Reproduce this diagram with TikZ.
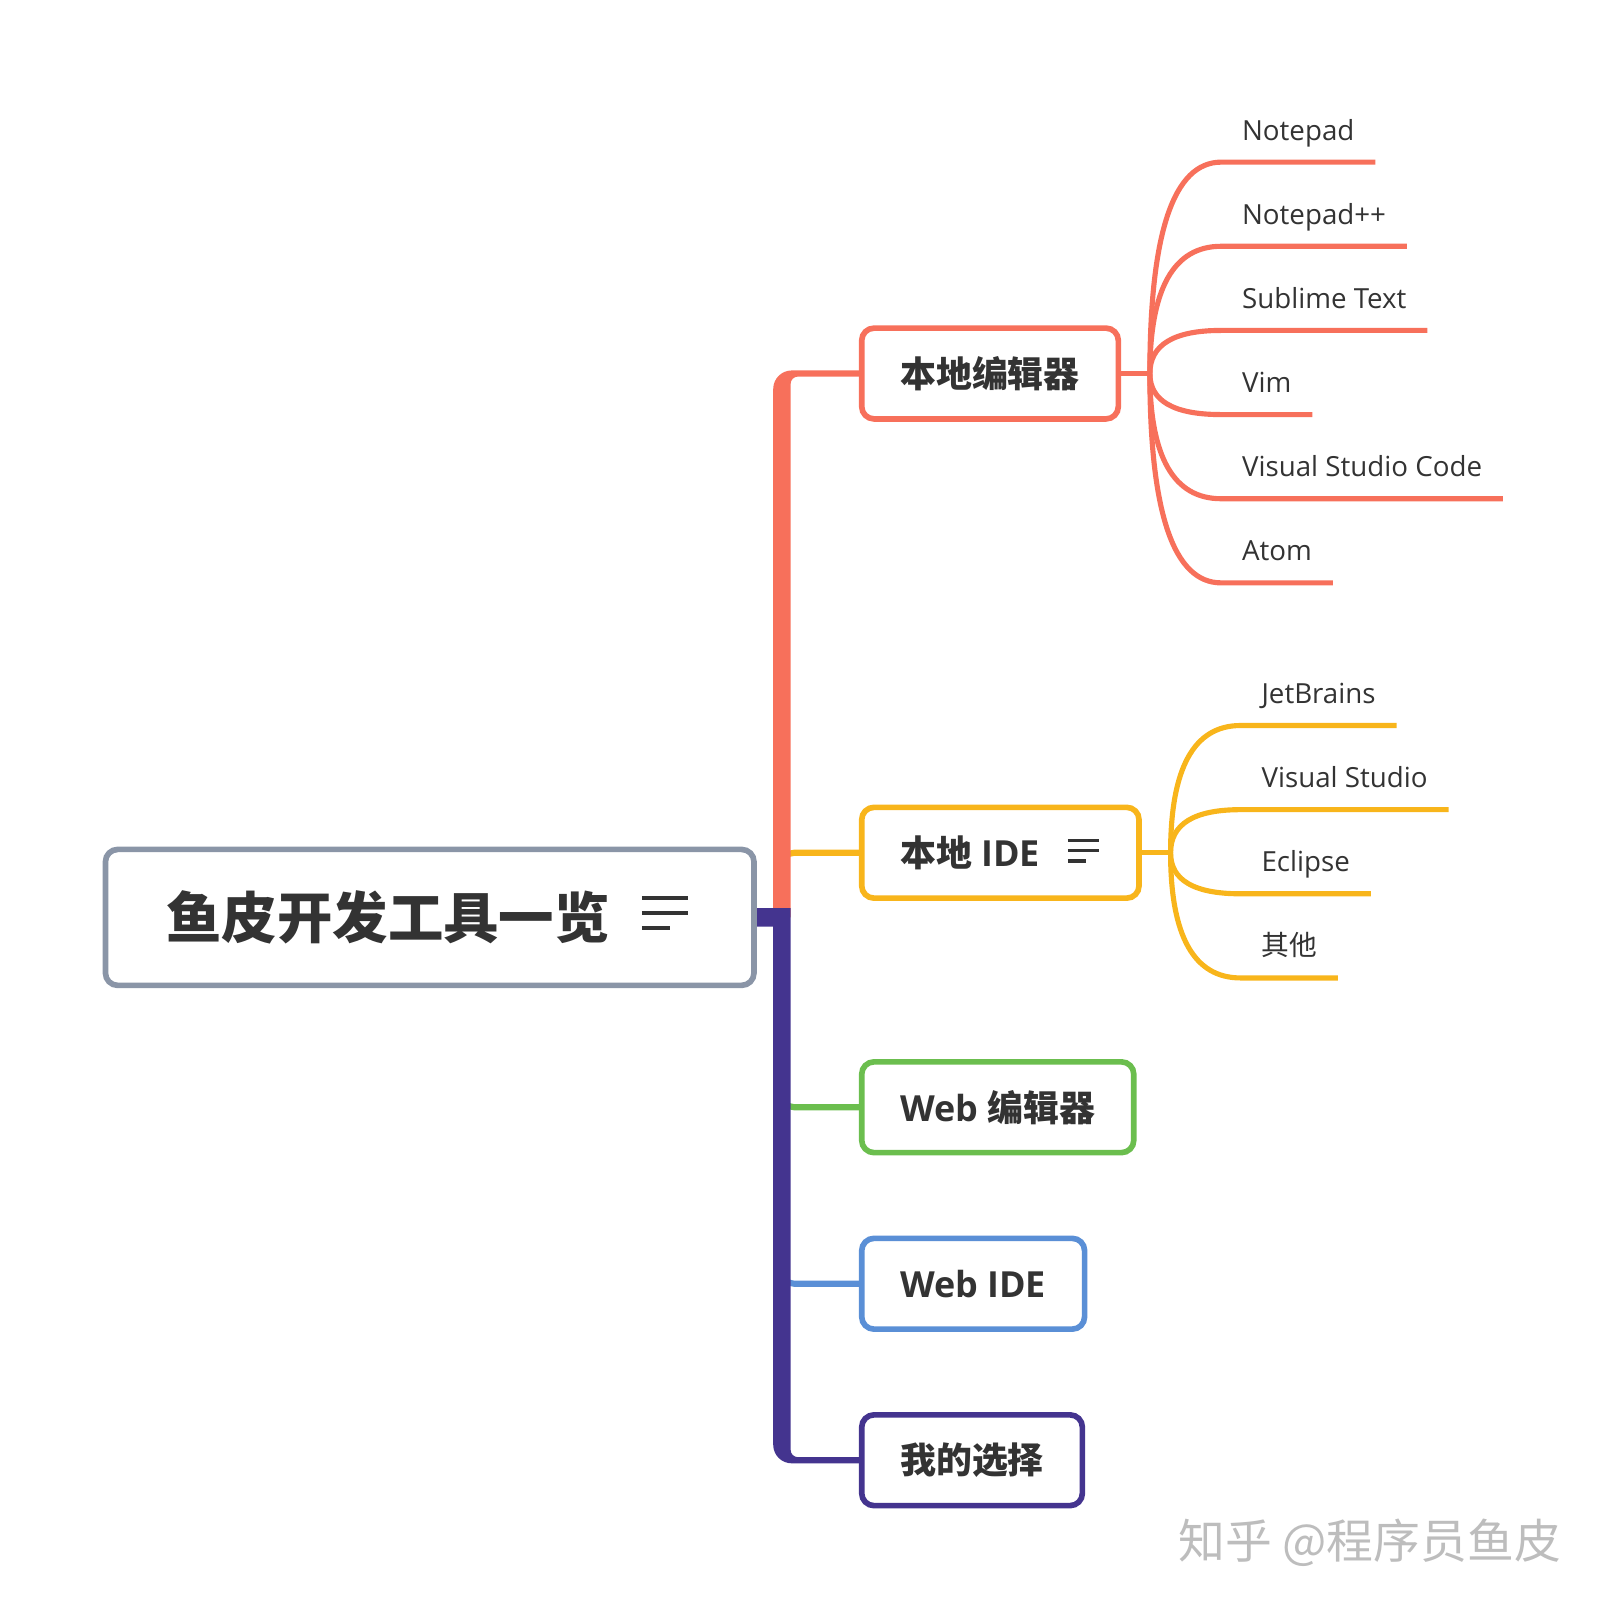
\documentclass[tikz,border=0pt]{standalone}
\usepackage{fontspec}
\setmainfont{Open Sans}
\newfontfamily\cjk{Noto Sans CJK SC}
\usetikzlibrary{calc,backgrounds}
\newlength\pxl
\setlength\pxl{0.513pt}
\definecolor{coralc}{HTML}{F7705B}
\definecolor{idec}{HTML}{F8B51B}
\definecolor{webc}{HTML}{6BBE4E}
\definecolor{webidec}{HTML}{5A8FD6}
\definecolor{choicec}{HTML}{44348F}
\definecolor{rootc}{HTML}{8A95A7}
\definecolor{textc}{HTML}{333333}
\definecolor{markc}{HTML}{BDBDBD}
\tikzset{
  topic/.style={draw,line width=5.5\pxl,rounded corners=12\pxl,fill=white,inner xsep=37.5\pxl,
    minimum height=88.5\pxl,anchor=west,text=textc,font=\fontsize{17.96}{20}\selectfont\bfseries},
  leaf/.style={inner xsep=20\pxl,inner ysep=0pt,text depth=21\pxl,anchor=south west,text=textc,
    font=\fontsize{13.85}{16}\selectfont},
  branch/.style={line width=6\pxl,rounded corners=12\pxl},
  twig/.style={line width=5\pxl},
  menu/.style={line width=4\pxl,textc},
  fan/.style={to path={.. controls ($(\tikztostart)!2/3!(\tikztostart |- \tikztotarget)$)
    and ($(\tikztotarget)!2/3!(\tikztostart |- \tikztotarget)$) .. (\tikztotarget)}}
}
\begin{document}
\begin{tikzpicture}[x=\pxl,y=\pxl]
    \useasboundingbox (0,0) rectangle (1563,-1567);
    \node[topic,draw=rootc,anchor=center,minimum width=632\pxl,minimum height=132.5\pxl,
      font=\fontsize{27.7}{30}\selectfont\bfseries] (root) at (418.75,-894) {\cjk 鱼皮开发工具一览\rule{81\pxl}{0pt}};
    \node[topic,draw=coralc] (edit) at (837,-364) {\cjk 本地编辑器};
    \node[topic,draw=idec] (ide) at (837,-831) {{\cjk 本地} IDE\rule{59\pxl}{0pt}};
    \node[topic,draw=webc] (webedit) at (837,-1079) {Web {\cjk 编辑器}};
    \node[topic,draw=webidec] (webide) at (837,-1251) {Web IDE};
    \node[topic,draw=choicec] (choice) at (837,-1423) {\cjk 我的选择};
    \draw[menu] ([shift={(-112,19)}]root.east) -- ++(45,0) ([shift={(-112,4.5)}]root.east) -- ++(45,0)
      ([shift={(-112,-10)}]root.east) -- ++(27,0);
    \draw[menu,line width=3\pxl] ([shift={(-72,12)}]ide.east) -- ++(30,0) ([shift={(-72,2)}]ide.east) -- ++(30,0)
      ([shift={(-72,-8)}]ide.east) -- ++(18,0);

    \node[leaf] (notepad) at (1190,-158) {Notepad};
    \node[leaf] (notepadpp) at (1190,-240) {Notepad++};
    \node[leaf] (sublime) at (1190,-322) {Sublime Text};
    \node[leaf] (vim) at (1190,-404) {Vim};
    \node[leaf] (vscode) at (1190,-486) {Visual Studio Code};
    \node[leaf] (atom) at (1190,-568) {Atom};
    \node[leaf] (jetbrains) at (1209,-707) {JetBrains};
    \node[leaf] (vs) at (1209,-789) {Visual Studio};
    \node[leaf] (eclipse) at (1209,-871) {Eclipse};
    \node[leaf] (other) at (1209,-953) {\cjk 其他};
    \node[inner sep=0pt,anchor=west,text=markc,font=\cjk\fontsize{23.4}{25}\selectfont] (mark) at (1148,-1503) {知乎 @程序员鱼皮};

    \coordinate (spine) at (762,-894);
    \coordinate (etop) at (spine |- edit.west);
    \coordinate (cbot) at (spine |- choice.west);
    \coordinate (efork) at ([xshift=28\pxl]edit.east);
    \coordinate (ifork) at ([xshift=28\pxl]ide.east);
    \begin{scope}[on background layer]
    \draw[branch,idec] (spine) |- (ide.west);
    \draw[branch,webc] (spine) |- (webedit.west);
    \draw[branch,webidec] (spine) |- (webide.west);
    \fill[coralc] ([xshift=-8.5\pxl]spine) -- ([shift={(-8.5,-15)}]etop) arc[start angle=180,end angle=90,radius=18\pxl]
      -- ([yshift=3\pxl]edit.west) -- ([yshift=-3\pxl]edit.west) -- ([shift={(15.5,-3)}]etop)
      arc[start angle=90,end angle=180,radius=7\pxl] -- ([xshift=8.5\pxl]spine) -- cycle;
    \fill[choicec] ([yshift=9\pxl]root.east) -- ([shift={(8.5,9)}]spine) -- ([shift={(8.5,10)}]cbot)
      arc[start angle=180,end angle=270,radius=7\pxl] -- ([yshift=3\pxl]choice.west) -- ([yshift=-3\pxl]choice.west)
      -- ([shift={(9.5,-3)}]cbot) arc[start angle=270,end angle=180,radius=18\pxl] -- ([shift={(-8.5,-9)}]spine)
      -- ([yshift=-9\pxl]root.east) -- cycle;
    \draw[twig,coralc] (edit.east) -- (efork);
    \draw[twig,coralc] (efork) to[fan] (notepad.south west) -- (notepad.south east);
    \draw[twig,coralc] (efork) to[fan] (notepadpp.south west) -- (notepadpp.south east);
    \draw[twig,coralc] (efork) to[fan] (sublime.south west) -- (sublime.south east);
    \draw[twig,coralc] (efork) to[fan] (vim.south west) -- (vim.south east);
    \draw[twig,coralc] (efork) to[fan] (vscode.south west) -- (vscode.south east);
    \draw[twig,coralc] (efork) to[fan] (atom.south west) -- (atom.south east);
    \draw[twig,idec] (ide.east) -- (ifork);
    \draw[twig,idec] (ifork) to[fan] (jetbrains.south west) -- (jetbrains.south east);
    \draw[twig,idec] (ifork) to[fan] (vs.south west) -- (vs.south east);
    \draw[twig,idec] (ifork) to[fan] (eclipse.south west) -- (eclipse.south east);
    \draw[twig,idec] (ifork) to[fan] (other.south west) -- (other.south east);
    \end{scope}
\end{tikzpicture}
\end{document}
